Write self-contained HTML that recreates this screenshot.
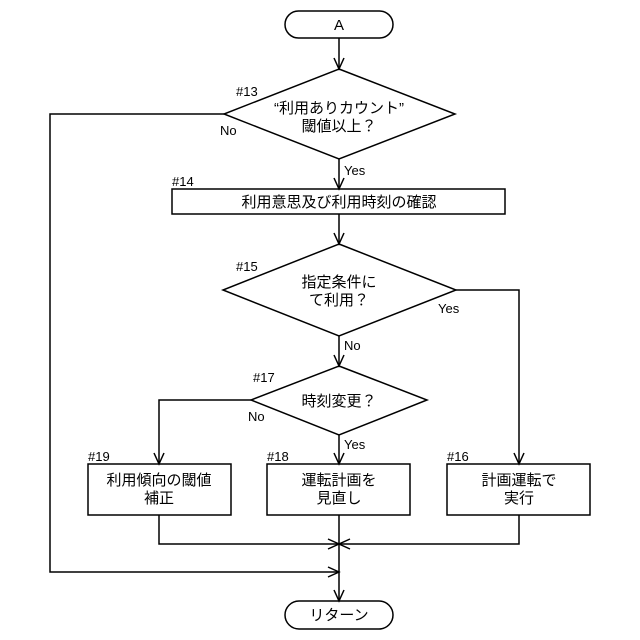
<!DOCTYPE html>
<html><head><meta charset="utf-8"><style>
html,body{margin:0;padding:0;background:#fff;}
svg{display:block;}
text{font-family:"Liberation Sans","Noto Sans CJK JP",sans-serif;fill:#000;}
.t{font-size:15px;text-anchor:middle;}
.l{font-size:13px;}
</style></head><body>
<svg width="640" height="640" viewBox="0 0 640 640" xmlns="http://www.w3.org/2000/svg">
<g fill="none" stroke="#000" stroke-width="1.5">
<rect x="285" y="11" width="108" height="27" rx="13.5"/>
<rect x="285" y="601" width="108" height="28" rx="14"/>
<polygon points="339,69 455,114 339,159 224,114"/>
<rect x="172" y="189" width="333" height="25"/>
<polygon points="339,244 456,290 339,336 223,290"/>
<polygon points="339,366 427,400 339,435 251,400"/>
<rect x="88" y="464" width="143" height="51"/>
<rect x="267" y="464" width="143" height="51"/>
<rect x="447" y="464" width="143" height="51"/>
<!-- connectors -->
<line x1="339" y1="38" x2="339" y2="69"/>
<line x1="339" y1="159" x2="339" y2="189"/>
<line x1="339" y1="214" x2="339" y2="244"/>
<line x1="339" y1="336" x2="339" y2="366"/>
<line x1="339" y1="435" x2="339" y2="464"/>
<polyline points="456,290 519,290 519,464"/>
<polyline points="251,400 159,400 159,464"/>
<polyline points="159,515 159,544 519,544 519,515"/>
<line x1="339" y1="515" x2="339" y2="601"/>
<polyline points="224,114 50,114 50,572 339,572"/>
<!-- arrowheads -->
<polyline points="334,58 339,69 344,58"/>
<polyline points="334,178 339,189 344,178"/>
<polyline points="334,233 339,244 344,233"/>
<polyline points="334,355 339,366 344,355"/>
<polyline points="334,453 339,464 344,453"/>
<polyline points="514,453 519,464 524,453"/>
<polyline points="154,453 159,464 164,453"/>
<polyline points="334,590 339,601 344,590"/>
<polyline points="328,567 339,572 328,577"/>
<polyline points="328,539 339,544 328,549"/>
<polyline points="350,539 339,544 350,549"/>
</g>
<text class="t" x="339" y="30">A</text>
<text class="t" x="339" y="113">“利用ありカウント”</text>
<text class="t" x="339" y="131">閾値以上？</text>
<text class="t" x="339" y="207">利用意思及び利用時刻の確認</text>
<text class="t" x="339" y="287">指定条件に</text>
<text class="t" x="339" y="305">て利用？</text>
<text class="t" x="339" y="406">時刻変更？</text>
<text class="t" x="159" y="485">利用傾向の閾値</text>
<text class="t" x="159" y="503">補正</text>
<text class="t" x="339" y="485">運転計画を</text>
<text class="t" x="339" y="503">見直し</text>
<text class="t" x="519" y="485">計画運転で</text>
<text class="t" x="519" y="503">実行</text>
<text class="t" x="339" y="620">リターン</text>
<text class="l" x="236" y="96">#13</text>
<text class="l" x="220" y="135">No</text>
<text class="l" x="344" y="175">Yes</text>
<text class="l" x="172" y="186">#14</text>
<text class="l" x="236" y="271">#15</text>
<text class="l" x="438" y="313">Yes</text>
<text class="l" x="344" y="350">No</text>
<text class="l" x="253" y="382">#17</text>
<text class="l" x="248" y="421">No</text>
<text class="l" x="344" y="449">Yes</text>
<text class="l" x="88" y="461">#19</text>
<text class="l" x="267" y="461">#18</text>
<text class="l" x="447" y="461">#16</text>
</svg>
</body></html>
